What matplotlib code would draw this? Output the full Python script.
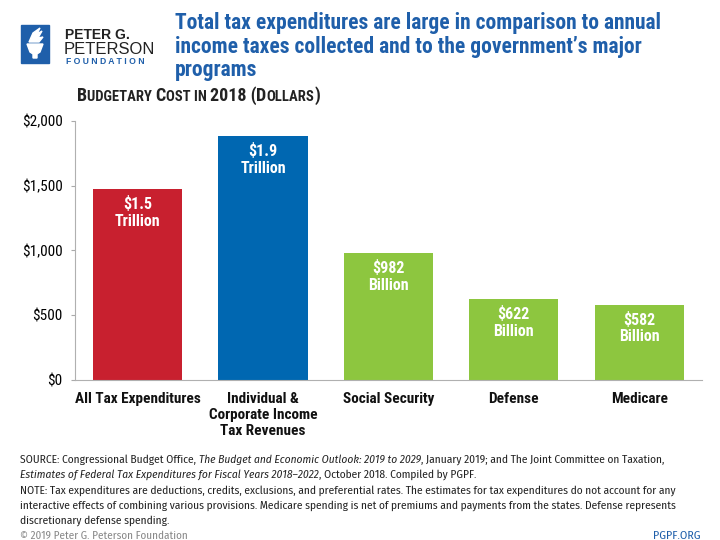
import matplotlib
matplotlib.use("Agg")
import matplotlib.pyplot as plt
from matplotlib.patches import Rectangle, Polygon

# data (billions of dollars, 2018)
categories = ["All Tax Expenditures", "Individual &\nCorporate Income\nTax Revenues",
              "Social Security", "Defense", "Medicare"]
values = [1475, 1885, 982, 622, 582]
bar_labels = ["\\$1.5\nTrillion", "\\$1.9\nTrillion", "\\$982\nBillion",
              "\\$622\nBillion", "\\$582\nBillion"]
bar_colors = ["#C8202F", "#0067B1", "#8DC63F", "#8DC63F", "#8DC63F"]
yticks = [0, 500, 1000, 1500, 2000]
ytick_labels = ["\\$0", "\\$500", "\\$1,000", "\\$1,500", "\\$2,000"]

COND = ["Roboto Condensed", "PT Sans Narrow", "DejaVu Sans"]
NOTE = ["Fira Sans Condensed", "Open Sans Condensed", "DejaVu Sans"]
BLUE = "#1F5FAA"

fig = plt.figure(figsize=(7.2, 5.4), dpi=100)
ax = fig.add_axes([0.104, 0.2963, 0.871, 0.4797])
ax.bar(range(len(values)), values, width=0.71, color=bar_colors)
for i, (v, lab) in enumerate(zip(values, bar_labels)):
    ax.annotate(lab, (i, v), xytext=(0, -5), textcoords="offset points",
                ha="center", va="top", color="white", fontsize=11.5,
                fontweight="bold", linespacing=1.15, family=COND)
ax.set_xlim(-0.5, 4.5)
ax.set_ylim(0, 2000)
ax.set_yticks(yticks)
ax.set_yticklabels(ytick_labels, fontsize=11, family=COND)
ax.set_xticks(range(len(categories)))
ax.set_xticklabels(categories, fontsize=11, fontweight="bold", linespacing=1.17,
                   family=COND, color="#111111")
ax.tick_params(axis="x", length=0, pad=9)
ax.tick_params(axis="y", length=3, color="#aaaaaa", pad=6)
for s in ["top", "right"]:
    ax.spines[s].set_visible(False)
ax.spines["left"].set_color("#b0b0b0")
ax.spines["bottom"].set_color("#b0b0b0")

W, H = 720.0, 540.0
def px(x, y):
    return x / W, 1 - y / H

r = fig.canvas.get_renderer()
def runs(x, y, parts, **common):
    fx, fy = px(x, y)
    for s, kw in parts:
        opts = dict(common)
        opts.update(kw)
        t = fig.text(fx, fy, s, va="baseline", **opts)
        fx += t.get_window_extent(r).width / W

# logo
fig.patches.append(Rectangle(px(21, 63), 28 / W, 38 / H, transform=fig.transFigure,
                             color=BLUE, zorder=1))
fig.patches.append(Polygon([px(27, 44), px(43, 44), px(40, 52), px(37, 54), px(37, 58),
                            px(33, 58), px(33, 54), px(30, 52)],
                           closed=True, transform=fig.transFigure, color="white", zorder=2))
fig.patches.append(Polygon([px(29, 42), px(33, 33), px(40, 28), px(37, 34), px(42, 31),
                            px(38, 38), px(43, 37), px(39, 42)],
                           closed=True, transform=fig.transFigure, color="white", zorder=2))
fig.text(*px(65, 39), "PETER G.", fontsize=10, color="#222222", va="baseline",
         fontweight="bold", family=["Liberation Sans", "DejaVu Sans"])
fig.text(*px(64, 54), "PETERSON", fontsize=12, color="#222222", va="baseline",
         family=["Liberation Sans", "DejaVu Sans"])
fig.text(*px(66, 63.5), "F O U N D A T I O N", fontsize=6.2, color=BLUE,
         va="baseline", fontweight="bold", family=["Liberation Sans", "DejaVu Sans"])

# title
title = ["Total tax expenditures are large in comparison to annual",
         "income taxes collected and to the government\u2019s major",
         "programs"]
for i, line in enumerate(title):
    fig.text(*px(175, 29 + 23.5 * i), line, fontsize=15.5, color=BLUE,
             fontweight="bold", va="baseline", family=COND)

# subtitle in small caps
big, small = 13, 10.5
runs(77, 101, [("B", dict(fontsize=big)), ("UDGETARY ", dict(fontsize=small)),
               ("C", dict(fontsize=big)), ("OST IN ", dict(fontsize=small)),
               ("2018 (", dict(fontsize=big)), ("D", dict(fontsize=big)),
               ("OLLARS", dict(fontsize=small)), (")", dict(fontsize=big))],
     color="#222222", family=COND, fontweight="semibold")

# footnotes
fn = dict(fontsize=8.2, color="#222222", family=NOTE)
it = dict(style="italic")
runs(20, 463, [("SOURCE: Congressional Budget Office, ", {}),
               ("The Budget and Economic Outlook: 2019 to 2029", it),
               (", January 2019; and The Joint Committee on Taxation,", {})], **fn)
runs(20, 478, [("Estimates of Federal Tax Expenditures for Fiscal Years 2018\u20132022", it),
               (", October 2018. Compiled by PGPF.", {})], **fn)
runs(20, 494, [("NOTE: Tax expenditures are deductions, credits, exclusions, and preferential rates. "
                "The estimates for tax expenditures do not account for any", {})], **fn)
runs(20, 509, [("interactive effects of combining various provisions. Medicare spending is net of "
                "premiums and payments from the states. Defense represents", {})], **fn)
runs(20, 524, [("discretionary defense spending.", {})], **fn)
fig.text(*px(20, 539), "\u00a9 2019 Peter G. Peterson Foundation", fontsize=8,
         color="#888888", va="baseline", family=NOTE)
fig.text(*px(701, 539), "PGPF.ORG", fontsize=8.5, color=BLUE, va="baseline",
         ha="right", family=NOTE)

fig.savefig("out.png", dpi=100)
